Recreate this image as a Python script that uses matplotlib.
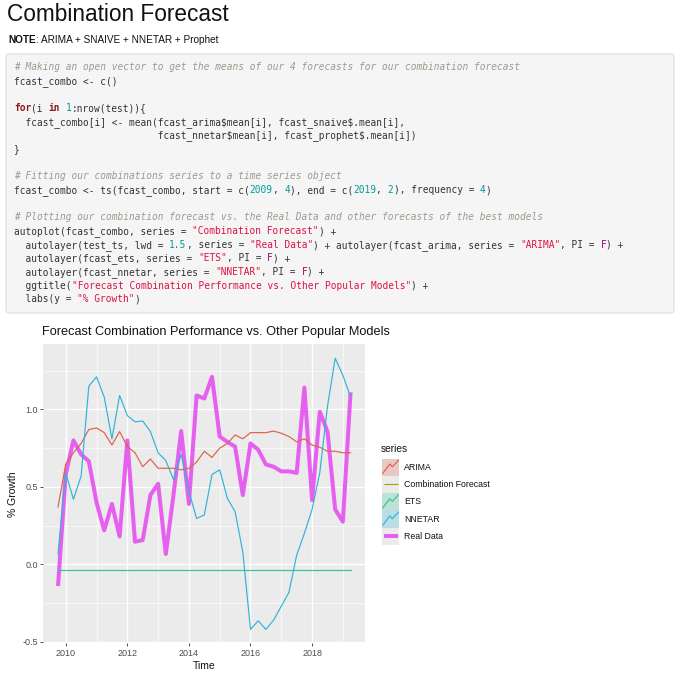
import re
import numpy as np
import matplotlib
matplotlib.use("Agg")
import matplotlib.pyplot as plt
from matplotlib.patches import FancyBboxPatch, Rectangle
from matplotlib.ticker import FixedLocator, FormatStrFormatter

# ---------------- data ----------------
start_year, start_quarter, n_obs = 2009, 4, 39
time_index = start_year + (start_quarter - 1) / 4 + np.arange(n_obs) / 4

real_data = [-0.14, 0.58, 0.80, 0.71, 0.665, 0.40, 0.22, 0.39, 0.18, 0.80,
             0.146, 0.157, 0.447, 0.52, 0.067, 0.45, 0.86, 0.39, 1.09, 1.07,
             1.21, 0.825, 0.79, 0.76, 0.447, 0.78, 0.74, 0.645, 0.63, 0.60,
             0.60, 0.59, 1.14, 0.415, 0.985, 0.857, 0.355, 0.275, 1.11]
arima = [0.37, 0.647, 0.72, 0.78, 0.87, 0.88, 0.85, 0.77, 0.857, 0.76,
         0.72, 0.63, 0.68, 0.62, 0.62, 0.62, 0.61, 0.62, 0.66, 0.73,
         0.69, 0.75, 0.78, 0.835, 0.81, 0.85, 0.85, 0.85, 0.86, 0.846,
         0.825, 0.79, 0.81, 0.77, 0.756, 0.73, 0.73, 0.72, 0.72]
ets = [-0.034, -0.034, -0.034, -0.034, -0.034, -0.034, -0.034, -0.034, -0.034, -0.034,
       -0.034, -0.034, -0.034, -0.034, -0.034, -0.034, -0.034, -0.034, -0.034, -0.034,
       -0.034, -0.034, -0.034, -0.034, -0.034, -0.034, -0.034, -0.034, -0.034, -0.034,
       -0.034, -0.034, -0.034, -0.034, -0.034, -0.034, -0.034, -0.034, -0.034]
nnetar = [0.067, 0.59, 0.42, 0.57, 1.15, 1.21, 1.08, 0.81, 1.09, 0.96,
          0.92, 0.925, 0.857, 0.72, 0.67, 0.547, 0.71, 0.47, 0.297, 0.318,
          0.58, 0.61, 0.426, 0.34, 0.08, -0.42, -0.364, -0.42, -0.36, -0.27,
          -0.18, 0.06, 0.20, 0.355, 0.59, 1.02, 1.33, 1.22, 1.08]
combo_forecast = []  # not visible in the reference plot

series_names = ["ARIMA", "Combination Forecast", "ETS", "NNETAR", "Real Data"]
series_colors = ["#de6148", "#a3a500", "#33c494", "#2fb4d6", "#e660f0"]
key_fill = [True, False, True, True, False]

x_major = [2010, 2012, 2014, 2016, 2018]
x_minor = [2011, 2013, 2015, 2017, 2019]
y_major = [-0.5, 0.0, 0.5, 1.0]
y_minor = [-0.25, 0.25, 0.75, 1.25]

page_title = "Combination Forecast"
note_bold = "NOTE"
note_rest = ": ARIMA + SNAIVE + NNETAR + Prophet"
chart_title = "Forecast Combination Performance vs. Other Popular Models"

code_lines = [
    '# Making an open vector to get the means of our 4 forecasts for our combination forecast',
    'fcast_combo <- c()',
    '',
    'for(i in 1:nrow(test)){',
    '  fcast_combo[i] <- mean(fcast_arima$mean[i], fcast_snaive$.mean[i],',
    '                         fcast_nnetar$mean[i], fcast_prophet$.mean[i])',
    '}',
    '',
    '# Fitting our combinations series to a time series object',
    'fcast_combo <- ts(fcast_combo, start = c(2009, 4), end = c(2019, 2), frequency = 4)',
    '',
    '# Plotting our combination forecast vs. the Real Data and other forecasts of the best models',
    'autoplot(fcast_combo, series = "Combination Forecast") +',
    '  autolayer(test_ts, lwd = 1.5, series = "Real Data") + autolayer(fcast_arima, series = "ARIMA", PI = F) +',
    '  autolayer(fcast_ets, series = "ETS", PI = F) +',
    '  autolayer(fcast_nnetar, series = "NNETAR", PI = F) +',
    '  ggtitle("Forecast Combination Performance vs. Other Popular Models") +',
    '  labs(y = "% Growth")',
]

# ---------------- figure ----------------
W = H = 680
DPI = 100
fig = plt.figure(figsize=(W / DPI, H / DPI), dpi=DPI, facecolor="white")
SANS = ["Liberation Sans", "DejaVu Sans"]


def fx(px):
    return px / W


def fy(py):
    return 1 - py / H


# Page header
fig.text(fx(7), fy(21), page_title, fontsize=16.3, family=SANS, color="#111111",
         va="baseline", ha="left")
t_note = fig.text(fx(8), fy(43), note_bold, fontsize=7.2, family=SANS, weight="bold",
                  color="#111111", va="baseline", ha="left")
fig.canvas.draw()
bb = t_note.get_window_extent(renderer=fig.canvas.get_renderer())
fig.text(bb.x1 / W, fy(43), note_rest, fontsize=7.2, family=SANS,
         color="#111111", va="baseline", ha="left")

# Code block
box = FancyBboxPatch((fx(6), fy(313)), fx(668), (313 - 54) / H,
                     boxstyle="round,pad=0,rounding_size=0.005",
                     transform=fig.transFigure, facecolor="#f5f5f5",
                     edgecolor="#dddddd", linewidth=0.8)
fig.patches.append(box)

CODE_FONT = "DejaVu Sans Mono"
code_size = 6.88
char_w = 5.75
line0_base = 70.2
line_step = 13.65
plain_c = "#333333"
styles = {
    "comment": dict(color="#9a9a8e", style="italic"),
    "string": dict(color="#dd1144"),
    "keyword": dict(color="#8b1a1a", weight="bold"),
    "number": dict(color="#009999"),
    "const": dict(color="#990073"),
    "plain": dict(color=plain_c),
}
tok = re.compile(r'(#.*$)|("[^"]*")|(\b(?:for|in)\b)|(\b\d+(?:\.\d+)?\b)|(\bF\b)')

for li, line in enumerate(code_lines):
    y = fy(line0_base + li * line_step)
    pos = 0
    segs = []
    for m in tok.finditer(line):
        if m.start() > pos:
            segs.append((pos, line[pos:m.start()], "plain"))
        kind = ["comment", "string", "keyword", "number", "const"][m.lastindex - 1]
        segs.append((m.start(), m.group(0), kind))
        pos = m.end()
    if pos < len(line):
        segs.append((pos, line[pos:], "plain"))
    for col, s, kind in segs:
        if not s.strip():
            continue
        fig.text(fx(14 + col * char_w), y, s, family=CODE_FONT, fontsize=code_size,
                 va="baseline", ha="left", parse_math=False, **styles[kind])

# ---------------- chart ----------------
ax = fig.add_axes([fx(43.4), fy(643.4), (365.2 - 43.4) / W, (643.4 - 344.3) / H])
ax.set_facecolor("#ebebeb")
for sp in ax.spines.values():
    sp.set_visible(False)
ax.set_xlim(2009.275, 2019.725)
ax.set_ylim(-0.51, 1.42)
ax.xaxis.set_major_locator(FixedLocator(x_major))
ax.xaxis.set_minor_locator(FixedLocator(x_minor))
ax.yaxis.set_major_locator(FixedLocator(y_major))
ax.yaxis.set_minor_locator(FixedLocator(y_minor))
ax.yaxis.set_major_formatter(FormatStrFormatter("%.1f"))
ax.grid(which="major", color="white", linewidth=0.95)
ax.grid(which="minor", color="white", linewidth=0.45)
ax.set_axisbelow(True)
ax.tick_params(which="major", length=2.3, width=0.6, color="#333333",
               labelsize=6.5, labelcolor="#4d4d4d", pad=1.8)
ax.tick_params(which="minor", length=0)
for lab in ax.get_xticklabels() + ax.get_yticklabels():
    lab.set_family(SANS)

ax.plot(time_index[:len(combo_forecast)], combo_forecast, color=series_colors[1], lw=0.8)
ax.plot(time_index, real_data, color=series_colors[4], lw=2.9, solid_joinstyle="round",
        solid_capstyle="butt", zorder=3)
ax.plot(time_index, arima, color=series_colors[0], lw=0.85, zorder=4)
ax.plot(time_index, ets, color=series_colors[2], lw=0.85, zorder=4)
ax.plot(time_index, nnetar, color=series_colors[3], lw=0.85, zorder=5)

ax.set_xlabel("Time", fontsize=7.5, family=SANS, color="#111111", labelpad=2)
ax.set_ylabel("% Growth", fontsize=7.5, family=SANS, color="#111111", labelpad=3)
fig.text(fx(42), fy(335), chart_title, fontsize=9.2, family=SANS, color="#111111",
         va="baseline", ha="left")

# ---------------- legend ----------------
key_top = 458.5
key_h = 17.3
n_keys = len(series_names)
lax = fig.add_axes([fx(382), fy(key_top + key_h * n_keys), 17.3 / W, key_h * n_keys / H])
lax.set_xlim(0, 1)
lax.set_ylim(n_keys, 0)
lax.axis("off")
zig_x = [0.05, 0.45, 0.6, 0.95]
zig_y = [0.15, 0.68, 0.52, 0.9]
for i, (name, col, filled) in enumerate(zip(series_names, series_colors, key_fill)):
    lax.add_patch(Rectangle((0, i), 1, 1, facecolor="#ebebeb", edgecolor="none"))
    if filled:
        lax.add_patch(Rectangle((0, i), 1, 1, facecolor=col, alpha=0.25, edgecolor="none"))
        lax.plot(zig_x, [i + 1 - v for v in zig_y], color=col, lw=0.85)
    else:
        lw = 2.9 if name == "Real Data" else 0.85
        lax.plot([0.1, 0.9], [i + 0.5, i + 0.5], color=col, lw=lw, solid_capstyle="butt")
    fig.text(fx(404), fy(key_top + key_h * (i + 0.5)), name, fontsize=6.3, family=SANS,
             color="#111111", va="center", ha="left")
fig.text(fx(381), fy(449), "series", fontsize=7.3, family=SANS, color="#111111",
         va="center", ha="left")

fig.savefig("out.png", dpi=DPI, facecolor="white")
